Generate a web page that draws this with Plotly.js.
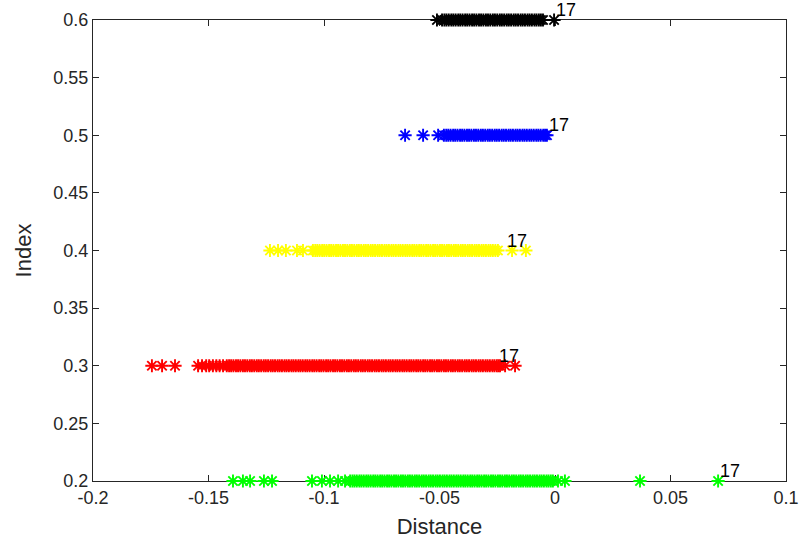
<!DOCTYPE html>
<html>
<head>
<meta charset="utf-8">
<script src="https://cdn.plot.ly/plotly-3.0.1.min.js"></script>
<style>html,body{margin:0;padding:0;background:#fff;}#chart{width:801px;height:539px;}</style>
</head>
<body>
<div id="chart"></div>
<script>
// Series levels (Index values)
var levels = [0.2, 0.3, 0.4, 0.5, 0.6];
var seriesColors = ['#00ff00', '#ff0000', '#ffff00', '#0000ff', '#000000'];

// Distance values, one list per level
var greenX = [-0.1394, -0.1351, -0.1320, -0.1260, -0.1225, -0.1052, -0.1009, -0.0974, -0.0939, -0.0909,
  -0.0887, -0.0877, -0.0868, -0.0858, -0.0847, -0.0838, -0.0828, -0.0817, -0.0808, -0.0798, -0.0787, -0.0778,
  -0.0768, -0.0757, -0.0748, -0.0738, -0.0727, -0.0718, -0.0708, -0.0697, -0.0688, -0.0678, -0.0667, -0.0658,
  -0.0648, -0.0637, -0.0628, -0.0618, -0.0607, -0.0598, -0.0588, -0.0577, -0.0568, -0.0558, -0.0547, -0.0538,
  -0.0528, -0.0517, -0.0508, -0.0498, -0.0487, -0.0478, -0.0468, -0.0457, -0.0448, -0.0438, -0.0427, -0.0418,
  -0.0408, -0.0397, -0.0388, -0.0378, -0.0367, -0.0358, -0.0348, -0.0337, -0.0328, -0.0318, -0.0307, -0.0298,
  -0.0288, -0.0277, -0.0268, -0.0258, -0.0247, -0.0238, -0.0228, -0.0217, -0.0208, -0.0198, -0.0187, -0.0178,
  -0.0168, -0.0157, -0.0148, -0.0138, -0.0127, -0.0118, -0.0108, -0.0097, -0.0088, -0.0078, -0.0067, -0.0058,
  -0.0048, -0.0037, -0.0028, -0.0018, -0.0009, 0.0013, 0.0043, 0.0368, 0.0706];

var redX = [-0.1745, -0.1701, -0.1645, -0.1545, -0.1528, -0.1510, -0.1497, -0.1481, -0.1466, -0.1452, -0.1437,
  -0.1421, -0.1411, -0.1402, -0.1392, -0.1381, -0.1372, -0.1362, -0.1351, -0.1342, -0.1332, -0.1321, -0.1312,
  -0.1302, -0.1291, -0.1282, -0.1272, -0.1261, -0.1252, -0.1242, -0.1231, -0.1222, -0.1212, -0.1201, -0.1192,
  -0.1182, -0.1171, -0.1162, -0.1152, -0.1141, -0.1132, -0.1122, -0.1111, -0.1102, -0.1092, -0.1081, -0.1072,
  -0.1062, -0.1051, -0.1042, -0.1032, -0.1021, -0.1012, -0.1002, -0.0991, -0.0982, -0.0972, -0.0961, -0.0952,
  -0.0942, -0.0931, -0.0922, -0.0912, -0.0901, -0.0892, -0.0882, -0.0871, -0.0862, -0.0852, -0.0841, -0.0832,
  -0.0822, -0.0811, -0.0802, -0.0792, -0.0781, -0.0772, -0.0762, -0.0751, -0.0742, -0.0732, -0.0721, -0.0712,
  -0.0702, -0.0691, -0.0682, -0.0672, -0.0661, -0.0652, -0.0642, -0.0631, -0.0622, -0.0612, -0.0601, -0.0592,
  -0.0582, -0.0571, -0.0562, -0.0552, -0.0541, -0.0532, -0.0522, -0.0511, -0.0502, -0.0492, -0.0481, -0.0472,
  -0.0462, -0.0451, -0.0442, -0.0432, -0.0421, -0.0412, -0.0402, -0.0391, -0.0382, -0.0372, -0.0361, -0.0352,
  -0.0342, -0.0331, -0.0322, -0.0312, -0.0301, -0.0292, -0.0282, -0.0271, -0.0262, -0.0252, -0.0245, -0.0238,
  -0.0216, -0.0173];

var yellowX = [-0.1234, -0.1199, -0.1165, -0.1117, -0.1091,
  -0.1048, -0.1038, -0.1029, -0.1019, -0.1008, -0.0999, -0.0989, -0.0978, -0.0969, -0.0959, -0.0948, -0.0939,
  -0.0929, -0.0918, -0.0909, -0.0899, -0.0888, -0.0879, -0.0869, -0.0858, -0.0849, -0.0839, -0.0828, -0.0819,
  -0.0809, -0.0798, -0.0789, -0.0779, -0.0768, -0.0759, -0.0749, -0.0738, -0.0729, -0.0719, -0.0708, -0.0699,
  -0.0689, -0.0678, -0.0669, -0.0659, -0.0648, -0.0639, -0.0629, -0.0618, -0.0609, -0.0599, -0.0588, -0.0579,
  -0.0569, -0.0558, -0.0549, -0.0539, -0.0528, -0.0519, -0.0509, -0.0498, -0.0489, -0.0479, -0.0468, -0.0459,
  -0.0449, -0.0438, -0.0429, -0.0419, -0.0408, -0.0399, -0.0389, -0.0378, -0.0369, -0.0359, -0.0348, -0.0339,
  -0.0329, -0.0318, -0.0309, -0.0299, -0.0288, -0.0279, -0.0269, -0.0258, -0.0247, -0.0186, -0.0126];

var blueX = [-0.0649, -0.0571, -0.0506,
  -0.0481, -0.0471, -0.0462, -0.0452, -0.0441, -0.0432, -0.0422, -0.0411, -0.0402, -0.0392, -0.0381, -0.0372,
  -0.0362, -0.0351, -0.0342, -0.0332, -0.0321, -0.0312, -0.0302, -0.0291, -0.0282, -0.0272, -0.0261, -0.0252,
  -0.0242, -0.0231, -0.0222, -0.0212, -0.0201, -0.0192, -0.0182, -0.0171, -0.0162, -0.0152, -0.0141, -0.0132,
  -0.0122, -0.0111, -0.0102, -0.0092, -0.0081, -0.0072, -0.0062, -0.0051, -0.0043, -0.0035];

var blackX = [-0.0511,
  -0.0489, -0.0479, -0.0470, -0.0460, -0.0449, -0.0440, -0.0430, -0.0419, -0.0410, -0.0400, -0.0389, -0.0380,
  -0.0370, -0.0359, -0.0350, -0.0340, -0.0329, -0.0320, -0.0310, -0.0299, -0.0290, -0.0280, -0.0269, -0.0260,
  -0.0250, -0.0239, -0.0230, -0.0220, -0.0209, -0.0200, -0.0190, -0.0179, -0.0170, -0.0160, -0.0149, -0.0140,
  -0.0130, -0.0119, -0.0110, -0.0100, -0.0089, -0.0080, -0.0070, -0.0061, -0.0052, -0.0004];

// "17" label positions (distance) for each level
var labelText = ['17', '17', '17', '17', '17'];
var labelX = [0.0706, -0.0251, -0.0216, -0.0035, -0.0004];

var xTickVals = [-0.2, -0.15, -0.1, -0.05, 0, 0.05, 0.1];
var xTickText = ['-0.2', '-0.15', '-0.1', '-0.05', '0', '0.05', '0.1'];
var yTickVals = [0.2, 0.25, 0.3, 0.35, 0.4, 0.45, 0.5, 0.55, 0.6];
var yTickText = ['0.2', '0.25', '0.3', '0.35', '0.4', '0.45', '0.5', '0.55', '0.6'];

var allX = [greenX, redX, yellowX, blueX, blackX];
var FONT = 'Liberation Sans, Arial, sans-serif';

var traces = allX.map(function (xs, i) {
  return {
    type: 'scatter',
    mode: 'markers',
    x: xs,
    y: xs.map(function () { return levels[i]; }),
    cliponaxis: false,
    hoverinfo: 'x+y',
    marker: {
      symbol: 'asterisk-open',
      size: 11,
      color: seriesColors[i],
      line: { color: seriesColors[i], width: 1.9 }
    }
  };
});

var annotations = labelX.map(function (lx, i) {
  return {
    x: lx, y: levels[i], xref: 'x', yref: 'y', yshift: 10,
    text: labelText[i], showarrow: false, xanchor: 'left', yanchor: 'middle',
    font: { family: FONT, size: 18, color: '#000000' }
  };
});

var axisCommon = {
  showgrid: false, zeroline: false, showline: true, linecolor: '#262626', linewidth: 1,
  mirror: 'ticks', ticks: 'inside', ticklen: 6, tickcolor: '#262626', tickwidth: 1,
  layer: 'below traces',
  tickfont: { family: FONT, size: 18, color: '#262626' }
};

var layout = {
  width: 801, height: 539,
  margin: { l: 93, r: 15, t: 20, b: 58 },
  paper_bgcolor: '#ffffff', plot_bgcolor: '#ffffff',
  showlegend: false,
  xaxis: Object.assign({}, axisCommon, {
    range: [-0.2, 0.1], tickvals: xTickVals, ticktext: xTickText,
    title: { text: 'Distance', standoff: 12, font: { family: FONT, size: 22, color: '#262626' } }
  }),
  yaxis: Object.assign({}, axisCommon, {
    range: [0.2, 0.6], tickvals: yTickVals, ticktext: yTickText,
    title: { text: 'Index', standoff: 15, font: { family: FONT, size: 22, color: '#262626' } }
  }),
  annotations: annotations
};

Plotly.newPlot('chart', traces, layout, { displayModeBar: false, staticPlot: true });
</script>
</body>
</html>
